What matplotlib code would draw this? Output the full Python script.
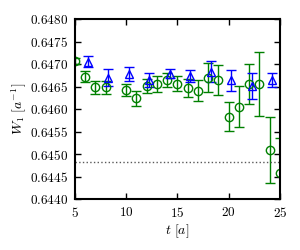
import matplotlib
matplotlib.use("Agg")
import matplotlib.pyplot as plt
from matplotlib.ticker import FuncFormatter

plt.rcParams['mathtext.fontset'] = 'cm'
plt.rcParams['font.family'] = 'DejaVu Serif'

# green circles: W_1 vs t
t_green = [5, 6, 7, 8, 10, 11, 12, 13, 14, 15, 16, 17, 18, 19, 20, 21, 22, 23, 24, 25]
w_green = [0.64706, 0.64672, 0.64648, 0.64648, 0.64642, 0.64624, 0.64651, 0.64655,
           0.64664, 0.64656, 0.64646, 0.64641, 0.64670, 0.64664, 0.64583, 0.64605,
           0.64656, 0.64656, 0.64509, 0.64457]
e_green = [0.00007, 0.00013, 0.00015, 0.00015, 0.00013, 0.00017, 0.00016, 0.00018,
           0.00016, 0.00017, 0.00020, 0.00024, 0.00033, 0.00033, 0.00032, 0.00046,
           0.00044, 0.00071, 0.00073, 0.00078]

# blue triangles
t_blue = [6.25, 8.25, 10.25, 12.25, 14.25, 16.25, 18.25, 20.25, 22.25, 24.25]
w_blue = [0.64705, 0.64670, 0.64678, 0.64665, 0.64678, 0.64673, 0.64683, 0.64664,
          0.64651, 0.64664]
e_blue = [0.00012, 0.00018, 0.00015, 0.00015, 0.00010, 0.00014, 0.00024, 0.00023,
          0.00028, 0.00016]

w_ref = 0.64483

fig = plt.figure(figsize=(3, 2.5), dpi=100)
ax = fig.add_axes([0.25, 0.204, 0.683, 0.72])

ax.errorbar(t_green, w_green, yerr=e_green, fmt='o', color='g', mfc='none',
            mec='g', ms=6, mew=1, elinewidth=1, capsize=3.5, capthick=1)
ax.errorbar(t_blue, w_blue, yerr=e_blue, fmt='^', color='b', mfc='none',
            mec='b', ms=6, mew=1, elinewidth=1, capsize=3.5, capthick=1)
ax.axhline(w_ref, color='0.35', ls=':', lw=1)

ax.set_xlim(5, 25)
ax.set_ylim(0.6440, 0.6480)
ax.set_xticks([5, 10, 15, 20, 25])
ax.set_yticks([0.6440 + 0.0005 * i for i in range(9)])
ax.xaxis.set_major_formatter(FuncFormatter(lambda v, p: r'$%d$' % v))
ax.yaxis.set_major_formatter(FuncFormatter(lambda v, p: r'$%.4f$' % v))
ax.tick_params(direction='in', top=True, right=True, length=4, width=1,
               labelsize=9.5, pad=5)
for s in ax.spines.values():
    s.set_linewidth(1.5)

ax.set_xlabel(r'$t\ [a]$', fontsize=10, labelpad=2)
ax.set_ylabel(r'$W_1\ [a^{-1}]$', fontsize=10, labelpad=1)

fig.savefig('out.png', dpi=100)
